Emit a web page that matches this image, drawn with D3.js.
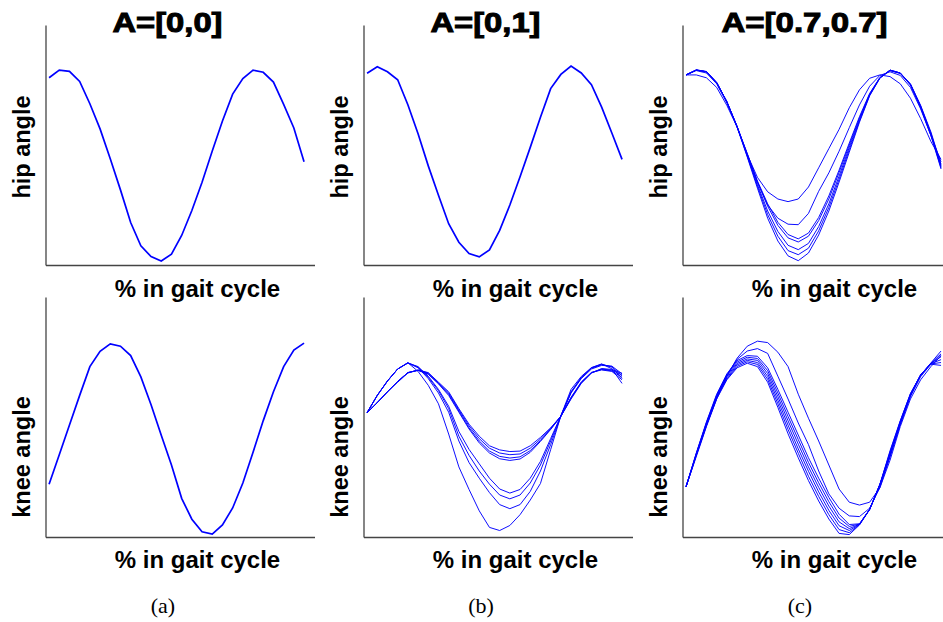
<!DOCTYPE html>
<html>
<head>
<meta charset="utf-8">
<script src="https://cdn.jsdelivr.net/npm/d3@7"></script>
<style>
  body { margin: 0; background: #fff; }
  svg { display: block; font-family: "Liberation Sans", Arial, sans-serif; }
  .axis path { stroke: #444; stroke-width: 1.3; }
  .line { fill: none; stroke: #0000ff; }
</style>
</head>
<body>
<svg width="943" height="622"></svg>
<script>
// % of gait cycle where each angle was sampled
var pct = [0, 4, 8, 12, 16, 20, 24, 28, 32, 36, 40, 44, 48, 52, 56, 60, 64, 68, 72, 76, 80, 84, 88, 92, 96, 100];

// (a) A=[0,0]
var hipA = [78, 81.2, 80.7, 76.5, 67.2, 56.7, 44.3, 31.3, 17.7, 8, 3.5, 1.7, 4.5, 12.3, 22.7, 34.5, 47.5, 60, 71.2, 77.7, 81.2, 80.3, 76.2, 66.9, 57.1, 43];
var kneeA = [22, 34.3, 46.7, 59, 71, 77.4, 80.5, 79.5, 75.6, 66.7, 55.1, 42.4, 30, 16.1, 7.4, 2.2, 1.2, 5, 12.1, 22.5, 35.3, 48.5, 60.5, 71, 77.9, 80.8];

// (b) A=[0,1]
var hipB = [79.9, 82.6, 80.5, 77.2, 66.8, 54.7, 41.3, 29.1, 17.2, 9.5, 4.8, 3.4, 6.3, 14.4, 25, 36.8, 49, 61.6, 73.5, 79.4, 82.9, 80, 75.1, 65.8, 55, 44];
var kneeB1 = [51.8, 59, 65, 70, 72.6, 69, 63.2, 55.5, 42.9, 29.2, 19.8, 10.9, 4, 2.7, 4.8, 9.3, 15.4, 22.3, 36.4, 50.5, 61.5, 66.9, 70.6, 72.1, 70.1, 64];
var kneeB2 = [51.8, 59, 65, 70, 72.5, 70.5, 66, 60, 52, 40, 31, 24.5, 18.5, 13.5, 11.8, 13.5, 19, 27.5, 38.5, 50.3, 60.5, 66.5, 70.5, 72, 70.8, 66];
var kneeB3 = [51.8, 59, 65, 70, 72.6, 70.8, 66.5, 61, 53.5, 42, 34, 27.5, 22, 17.5, 15.9, 17.5, 22.5, 30, 40, 50.4, 60.3, 66.3, 70.3, 71.8, 71, 67];
var kneeB4 = [51.8, 59, 65, 70, 72.5, 71, 67, 61.5, 54.5, 44, 36.5, 30.5, 24.5, 20, 18.3, 19.8, 24.5, 31.5, 41, 50.5, 60, 66, 70, 71.5, 71.2, 68];
var kneeB5 = [51.8, 56, 60.5, 64.5, 68.3, 69.6, 68.5, 64.5, 60.5, 53.5, 47, 42, 38, 36.3, 35.6, 35.8, 38, 41.5, 45.5, 50.3, 57.5, 64, 68.3, 70.2, 69.8, 68.2];
var kneeB6 = [51.8, 56, 60.5, 64.8, 68.5, 69.5, 68.3, 64.2, 60, 53, 46.3, 41, 37, 35, 34.3, 34.6, 37, 40.8, 45.2, 50.3, 57.8, 64.2, 68.4, 70, 69.5, 67.5];
var kneeB7 = [51.8, 56, 60.5, 64.8, 68.5, 69.5, 68, 64, 59.5, 52.5, 45.5, 40, 35.8, 33.6, 32.9, 33.4, 36, 40.2, 45, 50.3, 58, 64.4, 68.5, 69.8, 69.2, 66.5];
var kneeB8 = [51.8, 56, 60.5, 64.8, 68.5, 69.4, 67.8, 63.8, 59, 52, 45, 39.2, 35, 32.6, 31.9, 32.5, 35.3, 39.8, 44.8, 50.3, 58.2, 64.6, 68.6, 69.6, 69, 65.5];

// (c) A=[0.7,0.7]
var hipC1 = [79.2, 81.2, 80.5, 76, 68, 57.5, 45, 32, 19.5, 10, 3.8, 1.8, 5, 12.5, 22.5, 34.5, 47, 59.5, 70.5, 77.8, 81.2, 80, 75.5, 66.5, 55.5, 42];
var hipC2 = [79.2, 81.2, 80.5, 76, 68, 57.6, 45.3, 32.8, 21, 12, 6, 4.3, 7, 14.2, 24, 35.7, 48, 60, 70.7, 77.9, 81.2, 80, 75.3, 66.2, 55, 41.5];
var hipC3 = [79.2, 81.3, 80.6, 76, 68, 57.7, 45.6, 33.5, 22.5, 14, 8.2, 6.4, 9, 16, 25.5, 37, 49, 60.6, 71, 78, 81.2, 80, 75.2, 66, 54.6, 41];
var hipC4 = [79.2, 81.3, 80.6, 76, 68, 57.8, 46, 34.5, 24.5, 16.5, 11.3, 9.6, 12, 18.5, 27.5, 38.5, 50, 61.2, 71.2, 78, 81, 79.9, 75.1, 65.8, 54.3, 40.5];
var hipC5 = [79.2, 81.2, 80.5, 76, 68, 57.8, 46.3, 35, 25.5, 17.8, 12.7, 10.9, 13.3, 19.8, 28.8, 39.5, 50.8, 61.8, 71.5, 78.1, 81, 79.8, 75, 65.5, 54, 40];
var hipC6 = [79.2, 81, 80, 75.5, 67.5, 57.5, 46.5, 34.5, 25, 19.5, 17, 16.8, 21.5, 30.7, 38.4, 47.4, 57.2, 66.7, 74.5, 79, 80.5, 79, 74, 65, 54, 43];
var hipC7 = [79.2, 79.2, 78, 74, 66.5, 57.5, 46, 36.5, 30.5, 27.5, 26.4, 27.5, 32.5, 40.5, 48.5, 56.5, 65.5, 73, 77.8, 79.2, 78.5, 75.5, 69.5, 61, 51.5, 44];
var kneeC1 = [21, 33.5, 46, 57.5, 67, 74.5, 79.5, 81.6, 81, 77, 71, 59.5, 49.5, 40, 30, 20, 14.5, 13.3, 14.5, 20.5, 32, 46, 57.5, 65.5, 71, 75.5];
var kneeC2 = [21, 34, 46.5, 58, 67.5, 74, 77.5, 78.5, 76.5, 67, 57.5, 47.5, 38.5, 27.5, 18, 12, 8.8, 8.5, 12, 20.5, 33.5, 47, 58.5, 66.8, 72, 76];
var kneeC3 = [21, 35, 48, 59.5, 68, 73.5, 75.6, 75.3, 70.5, 61.5, 52, 42.5, 33, 24.5, 16.5, 9.5, 5.2, 5.5, 11.5, 22, 35, 47.5, 59, 67.5, 72.5, 77.5];
var kneeC4 = [21, 34.8, 47.7, 59.1, 67.5, 72.9, 74.9, 74.4, 69.3, 60, 50.2, 40.6, 31.1, 22.6, 14.7, 7.9, 4.4, 5.4, 11.5, 21.9, 34, 47.2, 59.1, 67.5, 72.4, 76.3];
var kneeC5 = [21, 34.6, 47.4, 58.7, 66.9, 72.3, 74.2, 73.6, 68.1, 58.5, 48.4, 38.7, 29.2, 20.7, 12.9, 6.3, 3.5, 5.3, 11.5, 21.8, 36, 48.3, 59.6, 67.5, 72.3, 75.1];
var kneeC6 = [21, 34.4, 47.1, 58.3, 66.3, 71.7, 73.6, 72.7, 66.9, 57, 46.6, 36.7, 27.4, 18.8, 11.1, 4.7, 2.7, 5.2, 11.5, 21.7, 33.5, 47, 59, 67.5, 72.2, 73.9];
var kneeC7 = [21, 34.2, 46.8, 57.9, 65.8, 71.1, 73, 71.9, 65.7, 55.5, 44.8, 34.9, 25.3, 16.9, 9.3, 3.1, 1.8, 5.1, 11.5, 21.6, 35.5, 48.4, 59.8, 67.5, 72.1, 72.7];
var kneeC8 = [21, 34, 46.5, 57.5, 65.5, 70.5, 72.4, 71, 64.5, 54, 43, 33, 23.5, 15, 7.5, 1.5, 1, 5, 11.5, 21.5, 34.5, 48, 59.5, 67.5, 72, 71.5];

var titles = ["A=[0,0]", "A=[0,1]", "A=[0.7,0.7]"];
var captions = ["(a)", "(b)", "(c)"];
var rowLabels = ["hip angle", "knee angle"];
var xLabel = "% in gait cycle";

var panels = [
  {row: 0, col: 0, series: [hipA]},
  {row: 0, col: 1, series: [hipB]},
  {row: 0, col: 2, series: [hipC1, hipC2, hipC3, hipC4, hipC5, hipC6, hipC7]},
  {row: 1, col: 0, series: [kneeA]},
  {row: 1, col: 1, series: [kneeB1, kneeB2, kneeB3, kneeB4, kneeB5, kneeB6, kneeB7, kneeB8]},
  {row: 1, col: 2, series: [kneeC1, kneeC2, kneeC3, kneeC4, kneeC5, kneeC6, kneeC7, kneeC8]}
];

var svg = d3.select("svg"),
    colX = [45.5, 363.5, 682.5],
    rowY = [25, 297],
    width = 269,
    height = 240;

var x = d3.scaleLinear().domain([-1.4, 104.1]).range([0, width]);
var y = d3.scaleLinear().domain([0, 100]).range([height, 0]);

var line = d3.line()
    .x(function(d, i) { return x(pct[i]); })
    .y(function(d) { return y(d); });

panels.forEach(function(p) {
  var g = svg.append("g")
      .attr("transform", "translate(" + colX[p.col] + "," + rowY[p.row] + ")");

  g.append("g").attr("class", "axis")
      .attr("transform", "translate(0," + height + ")")
      .call(d3.axisBottom(x).tickValues([]).tickSizeOuter(0));
  g.append("g").attr("class", "axis")
      .call(d3.axisLeft(y).tickValues([]).tickSizeOuter(0));

  var multi = p.series.length > 1;
  g.selectAll(".line")
    .data(p.series)
    .enter().append("path")
      .attr("class", "line")
      .attr("stroke-width", multi ? 0.95 : 1.7)
      .attr("d", line);

  // y label, rotated
  g.append("text")
      .attr("transform", "translate(-16," + (p.row == 0 ? 122 : 160) + ") rotate(-90)")
      .attr("text-anchor", "middle")
      .attr("font-weight", "bold")
      .attr("font-size", 23.5)
      .text(rowLabels[p.row]);

  // x label
  g.append("text")
      .attr("x", 152)
      .attr("y", p.row == 0 ? 271.5 : 271)
      .attr("text-anchor", "middle")
      .attr("font-weight", "bold")
      .attr("font-size", 24)
      .text(xLabel);

  if (p.row == 0) {
    g.append("text")
        .attr("x", 122)
        .attr("y", 6.7)
        .attr("text-anchor", "middle")
        .attr("font-weight", "bold")
        .attr("font-size", 28)
        .attr("stroke", "#000")
        .attr("stroke-width", 1)
        .attr("textLength", p.col == 2 ? 166 : 110)
        .attr("lengthAdjust", "spacingAndGlyphs")
        .text(titles[p.col]);
  } else {
    g.append("text")
        .attr("x", 117.5)
        .attr("y", 316)
        .attr("text-anchor", "middle")
        .attr("font-family", "'Liberation Serif', 'Times New Roman', serif")
        .attr("font-size", 22)
        .text(captions[p.col]);
  }
});
</script>
</body>
</html>
